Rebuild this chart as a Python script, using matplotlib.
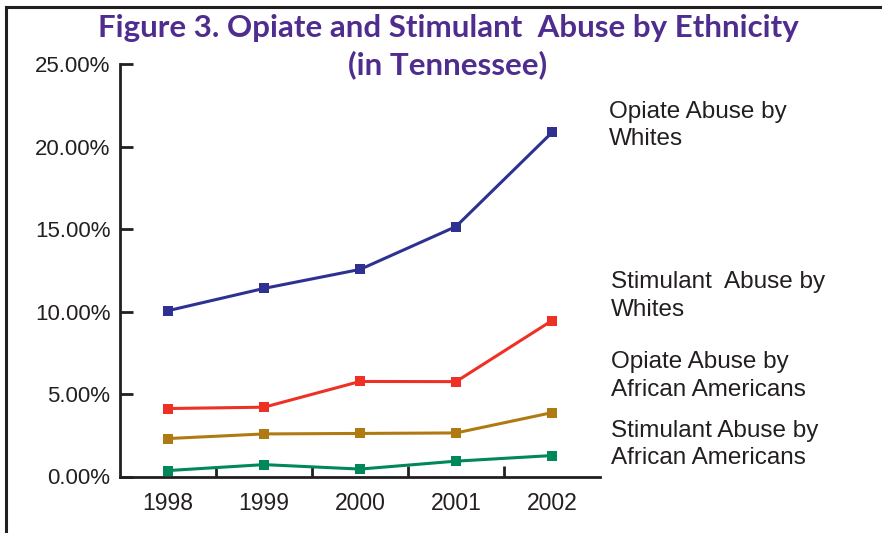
import matplotlib
matplotlib.use("Agg")
import matplotlib.pyplot as plt
from matplotlib.lines import Line2D

years = ["1998", "1999", "2000", "2001", "2002"]
opiate_whites = [10.05, 11.4, 12.55, 15.15, 20.85]
stimulant_whites = [4.12, 4.2, 5.76, 5.75, 9.45]
opiate_african_americans = [2.3, 2.58, 2.61, 2.64, 3.87]
stimulant_african_americans = [0.36, 0.72, 0.45, 0.93, 1.27]

series_labels = [["Opiate Abuse by", "Whites"],
                 ["Stimulant  Abuse by", "Whites"],
                 ["Opiate Abuse by", "African Americans"],
                 ["Stimulant Abuse by", "African Americans"]]
series_colors = ["#2E3192", "#EE3124", "#B07A12", "#00875A"]
yticks = [0, 5, 10, 15, 20, 25]
ytick_labels = ["0.00%", "5.00%", "10.00%", "15.00%", "20.00%", "25.00%"]

W, H = 882, 533
fig = plt.figure(figsize=(W / 100, H / 100), dpi=100)
fig.patch.set_facecolor("white")

# outer frame (top and left)
fig.add_artist(Line2D([6 / W, 6 / W], [0, 1 - 7 / H], transform=fig.transFigure,
                      color="#231F20", lw=2.2))
fig.add_artist(Line2D([6 / W, 1], [1 - 7 / H, 1 - 7 / H], transform=fig.transFigure,
                      color="#231F20", lw=2.2))

ax = fig.add_axes([120 / W, 1 - 476.5 / H, (600 - 120) / W, (476.5 - 64) / H])
x = list(range(len(years)))
series = [opiate_whites, stimulant_whites, opiate_african_americans, stimulant_african_americans]
for vals, col in zip(series, series_colors):
    ax.plot(x, vals, color=col, lw=2.2, marker="s", markersize=7, markeredgewidth=0,
            solid_joinstyle="round", clip_on=False, zorder=3)

ax.set_xlim(-0.5, 4.5)
ax.set_ylim(0, 25)
for s in ["top", "right"]:
    ax.spines[s].set_visible(False)
for s in ["left", "bottom"]:
    ax.spines[s].set_linewidth(2.0)
    ax.spines[s].set_color("#231F20")

ax.set_yticks(yticks)
ax.set_yticklabels(ytick_labels, fontsize=16, family="Liberation Sans", color="#231F20")
ax.tick_params(axis="y", direction="in", length=9, width=2.0, color="#231F20", pad=7)

ax.set_xticks(x)
ax.set_xticklabels(years, fontsize=16.5, family="Liberation Sans", color="#231F20")
ax.tick_params(axis="x", which="major", length=0, pad=11)
ax.set_xticks([0.5, 1.5, 2.5, 3.5], minor=True)
ax.tick_params(axis="x", which="minor", direction="in", length=8, width=2.0, color="#231F20")

# series labels on the right (baselines of the two lines)
label_pos = [(609, 118, 145), (611, 288, 316), (611, 368, 396), (611, 437, 464)]
for (px, b1, b2), (l1, l2) in zip(label_pos, series_labels):
    for py, txt in ((b1, l1), (b2, l2)):
        fig.text(px / W, 1 - py / H, txt, fontsize=17.5, family="Liberation Sans",
                 color="#231F20", ha="left", va="baseline")

# title
title_color = "#4F2D8F"
fig.text(448 / W, 1 - 37 / H, "Figure 3. Opiate and Stimulant  Abuse by Ethnicity",
         fontsize=22.5, fontweight="bold", family="Lato", color=title_color,
         ha="center", va="baseline")
fig.text(448 / W, 1 - 74 / H, "(in Tennessee)",
         fontsize=22.5, fontweight="bold", family="Lato", color=title_color,
         ha="center", va="baseline")

fig.savefig("out.png", dpi=100)
